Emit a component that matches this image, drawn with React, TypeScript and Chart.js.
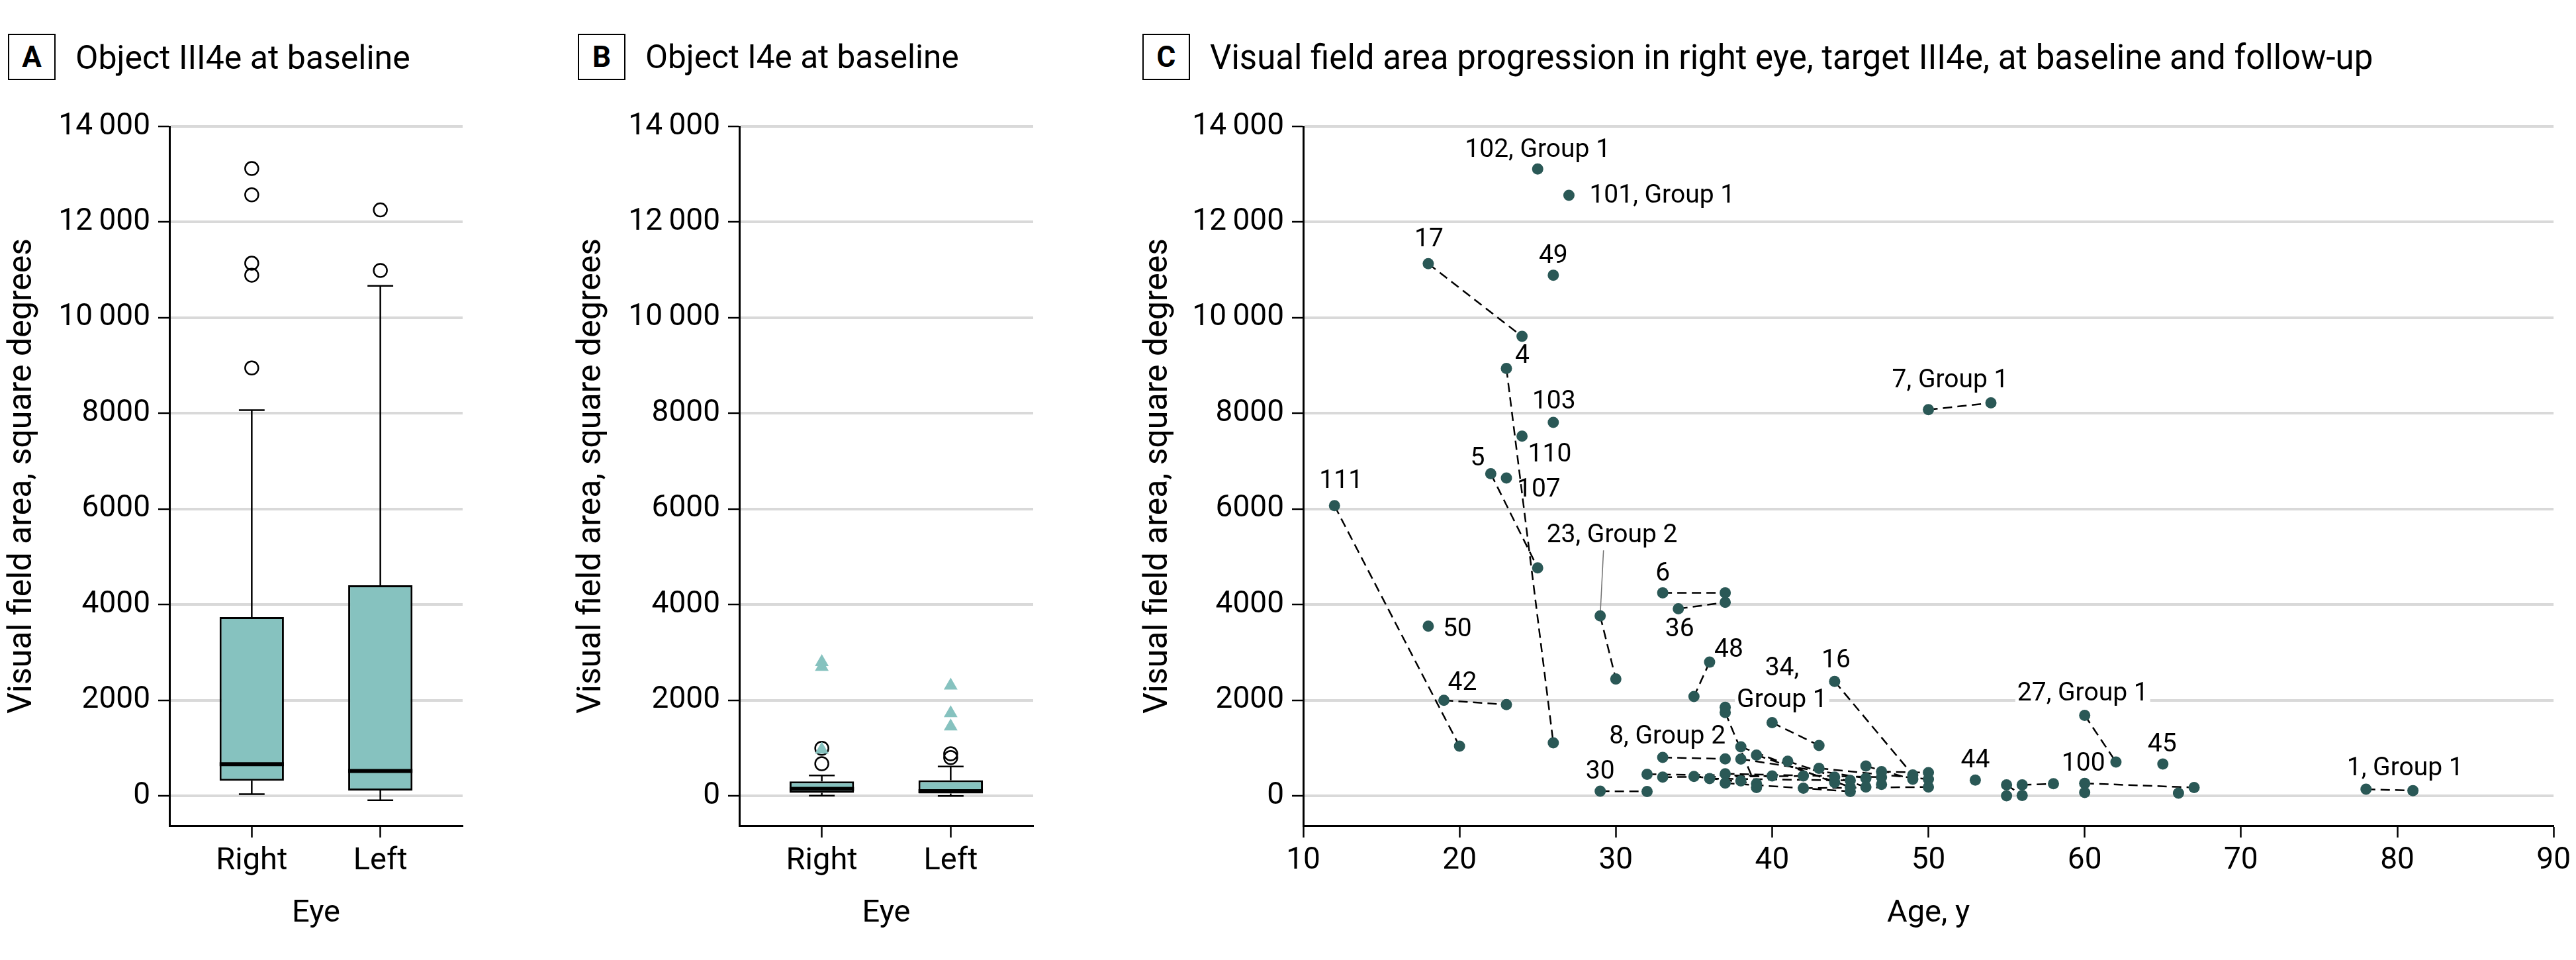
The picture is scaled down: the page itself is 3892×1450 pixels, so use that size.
import React, { useEffect, useRef } from 'react';
import { Chart, registerables } from 'chart.js';

Chart.register(...registerables);

const FONT = 'Roboto, "Liberation Sans", Arial, sans-serif';

// ---------- shared axis values ----------
const eyeLabels = ['Right', 'Left'];
const yTickValues = [0, 2000, 4000, 6000, 8000, 10000, 12000, 14000];
const ageTickValues = [10, 20, 30, 40, 50, 60, 70, 80, 90];

// ---------- Panel A: Object III4e at baseline (Right, Left) ----------
const aWhiskerLow = [36, -90];
const aQ1 = [318, 113];
const aMedian = [665, 523];
const aQ3 = [3740, 4404];
const aWhiskerHigh = [8066, 10668];
const aOutliersRight = [13120, 12570, 11140, 10890, 8950];
const aOutliersLeft = [12254, 10988];

// ---------- Panel B: Object I4e at baseline (Right, Left) ----------
const bWhiskerLow = [5, 0];
const bQ1 = [65, 51];
const bMedian = [150, 101];
const bQ3 = [305, 328];
const bWhiskerHigh = [429, 614];
const bOutliersRight = [997, 674];
const bOutliersLeft = [882, 803];
const bExtremesRight = [2800, 2700, 970];
const bExtremesLeft = [2309, 1731, 1454];

// ---------- Panel C: progression, right eye, III4e ----------
const cLabels = [
  '102, Group 1', '101, Group 1', '17', '49', '4', '103', '110', '5', '107', '111',
  '50', '42', '23, Group 2', '6', '36', '48', '34, Group 1', '16', '8, Group 2', '30',
  '7, Group 1', '27, Group 1', '44', '100', '45', '1, Group 1',
  '', '', '', '', '', '', '', '', '', '', '', '', '', '', '', '', '', '', '', '', '', '', '', '',
];
const cBaselineAge = [
  25, 27, 18, 26, 23, 26, 24, 22, 23, 12,
  18, 19, 29, 33, 34, 36, 40, 44, 33, 29,
  50, 60, 53, 60, 65, 78,
  32, 33, 35, 36, 37, 37, 37, 38, 38, 39, 41, 43, 46, 47, 42, 37, 38, 44, 47, 55, 56, 55, 60, 66,
];
const cBaselineArea = [
  13110, 12560, 11130, 10890, 8940, 7810, 7525, 6740, 6650, 6070,
  3550, 2000, 3765, 4248, 3914, 2798, 1533, 2394, 805, 100,
  8078, 1686, 333, 263, 667, 140,
  454, 394, 408, 362, 1745, 463, 270, 1026, 772, 855, 726, 578, 625, 509, 163, 1856, 316, 394, 242, 232, 232, 3, 71, 58,
];
const cFollowAge = [
  null, null, 24, null, 26, null, null, 25, null, 20,
  null, 23, 30, 37, 37, 35, 43, 49, 37, 32,
  54, 62, null, 67, null, 81,
  40, 42, 39, 45, 39, 47, 45, 44, 46, 45, 46, 50, 49, 50, 50, null, null, null, null, 56, 58, null, null, null,
];
const cFollowArea = [
  null, null, 9610, null, 1110, null, null, 4770, null, 1040,
  null, 1910, 2445, 4248, 4048, 2080, 1056, 440, 775, 94,
  8219, 710, null, 177, null, 112,
  417, 417, 256, 325, 177, 394, 94, 279, 371, 187, 187, 348, 348, 487, 187, null, null, null, null, 11, 256, null, null, null,
];

// label placement (pixel offsets from the baseline point) - style only
type Placement = { dx: number; dy: number; align: 'left' | 'center' | 'right'; lines?: string[]; leader?: [number, number]; bg?: boolean };
const cLabelPlacement: Record<string, Placement> = {
  '102, Group 1': { dx: 0, dy: -18, align: 'center' },
  '101, Group 1': { dx: 31, dy: 11, align: 'left' },
  '17': { dx: 1, dy: -26, align: 'center' },
  '49': { dx: 0, dy: -19, align: 'center' },
  '4': { dx: 13, dy: -8, align: 'left' },
  '103': { dx: 1, dy: -21, align: 'center' },
  '110': { dx: 9, dy: 38, align: 'left' },
  '5': { dx: -9, dy: -12, align: 'right' },
  '107': { dx: 16, dy: 28, align: 'left' },
  '111': { dx: 10, dy: -27, align: 'center' },
  '23, Group 2': { dx: -81, dy: -111, align: 'left', leader: [5, -99] },
  '50': { dx: 22, dy: 15, align: 'left' },
  '42': { dx: 6, dy: -16, align: 'left' },
  '6': { dx: 0, dy: -18, align: 'center' },
  '36': { dx: 2, dy: 41, align: 'center' },
  '48': { dx: 7, dy: -8, align: 'left' },
  '34, Group 1': { dx: 15, dy: -71, align: 'center', lines: ['34,', 'Group 1'], bg: true },
  '16': { dx: 2, dy: -21, align: 'center' },
  '8, Group 2': { dx: 7, dy: -21, align: 'center' },
  '30': { dx: 0, dy: -19, align: 'center' },
  '7, Group 1': { dx: 33, dy: -34, align: 'center' },
  '27, Group 1': { dx: -3, dy: -22, align: 'center', bg: true },
  '44': { dx: 0, dy: -19, align: 'center' },
  '100': { dx: -2, dy: -19, align: 'center' },
  '45': { dx: -1, dy: -19, align: 'center' },
  '1, Group 1': { dx: 59, dy: -21, align: 'center' },
};

// ---------- styles ----------
const TEAL = '#86C2BF';
const DOT = '#2A5856';
const GRID = '#D9D9D9';
const BOX_HALF = 0.25;
const CAP_HALF = 0.1;
const TICK_FONT = 46;
const XTITLE_FONT = 47;
const YTITLE_FONT = 50;
const LABEL_FONT = 39;

const fmt = (v: number) =>
  v >= 10000 ? `${Math.floor(v / 1000)}\u2009${String(v % 1000).padStart(3, '0')}` : String(v);

function yScale(width: number, titlePad: number) {
  return {
    type: 'linear',
    min: -620,
    max: 14000,
    afterBuildTicks: (axis: any) => {
      axis.ticks = yTickValues.map((v) => ({ value: v }));
    },
    afterFit: (s: any) => {
      s.width = width;
    },
    ticks: { callback: (v: any) => fmt(Number(v)), font: { size: TICK_FONT, family: FONT }, color: '#000', padding: 12 },
    grid: { color: GRID, lineWidth: 4, drawTicks: true, tickLength: 17, tickColor: '#000', tickWidth: 2.5 },
    border: { display: true, color: '#000', width: 3 },
    title: {
      display: true,
      text: 'Visual field area, square degrees',
      font: { size: YTITLE_FONT, family: FONT },
      color: '#000',
      padding: { top: titlePad, bottom: 0 },
    },
  };
}

function xBase(title: string) {
  return {
    offset: false,
    afterFit: (s: any) => {
      s.height = 203;
    },
    grid: { display: true, offset: false, drawOnChartArea: false, drawTicks: true, tickLength: 18, tickColor: '#000', tickWidth: 2.5 },
    border: { display: true, color: '#000', width: 3 },
    title: { display: true, text: title, font: { size: XTITLE_FONT, family: FONT }, color: '#000', padding: { top: 0, bottom: 42 } },
  };
}

function boxConfig(
  low: number[], q1: number[], med: number[], q3: number[], high: number[],
  outliers: number[][], extremes: number[][] | null,
  yWidth: number, yTitlePad: number, rightPad: number,
): any {
  const pos = [1, 2];
  const datasets: any[] = [
    {
      type: 'bar',
      data: pos.map((p, i) => ({ x: p, y: [q1[i], q3[i]] })),
      backgroundColor: TEAL,
      borderColor: '#000',
      borderWidth: 3,
      borderSkipped: false,
      barPercentage: 0.5,
      categoryPercentage: 1,
      order: 3,
    },
    {
      type: 'line',
      data: pos.flatMap((p, i) => [
        { x: p, y: q3[i] }, { x: p, y: high[i] }, { x: p, y: null },
        { x: p, y: q1[i] }, { x: p, y: low[i] }, { x: p, y: null },
        { x: p - CAP_HALF, y: high[i] }, { x: p + CAP_HALF, y: high[i] }, { x: p, y: null },
        { x: p - CAP_HALF, y: low[i] }, { x: p + CAP_HALF, y: low[i] }, { x: p, y: null },
      ]),
      borderColor: '#000',
      borderWidth: 2.5,
      pointRadius: 0,
      pointHitRadius: 0,
      spanGaps: false,
      fill: false,
      order: 4,
    },
    {
      type: 'line',
      data: pos.flatMap((p, i) => [
        { x: p - BOX_HALF, y: med[i] }, { x: p + BOX_HALF, y: med[i] }, { x: p, y: null },
      ]),
      borderColor: '#000',
      borderWidth: 6,
      pointRadius: 0,
      pointHitRadius: 0,
      spanGaps: false,
      fill: false,
      order: 2,
    },
    {
      type: 'scatter',
      data: pos.flatMap((p, i) => outliers[i].map((v) => ({ x: p, y: v }))),
      pointStyle: 'circle',
      pointRadius: 10,
      pointBackgroundColor: 'rgba(0,0,0,0)',
      pointBorderColor: '#000',
      pointBorderWidth: 2.5,
      order: 1,
    },
  ];
  if (extremes) {
    datasets.push({
      type: 'scatter',
      data: pos.flatMap((p, i) => extremes[i].map((v) => ({ x: p, y: v }))),
      pointStyle: 'triangle',
      pointRadius: 12,
      pointBackgroundColor: TEAL,
      pointBorderColor: TEAL,
      pointBorderWidth: 0,
      order: 0,
    });
  }
  return {
    type: 'bar',
    data: { datasets },
    options: {
      responsive: false,
      animation: false,
      devicePixelRatio: 1,
      layout: { padding: { top: 51, right: rightPad, left: 0, bottom: 0 } },
      plugins: { legend: { display: false }, tooltip: { enabled: false } },
      scales: {
        x: {
          type: 'linear',
          min: 0.36,
          max: 2.64,
          ...xBase('Eye'),
          afterBuildTicks: (axis: any) => {
            axis.ticks = [1, 2].map((v) => ({ value: v }));
          },
          ticks: {
            callback: (v: any) => eyeLabels[Number(v) - 1] ?? '',
            font: { size: XTITLE_FONT, family: FONT },
            color: '#000',
            padding: 8,
            autoSkip: false,
            maxRotation: 0,
          },
        },
        y: yScale(yWidth, yTitlePad),
      },
    },
  };
}

const pointLabelPlugin = {
  id: 'pointLabels',
  beforeDatasetsDraw(chart: any) {
    const { ctx } = chart;
    const xs = chart.scales.x;
    const ys = chart.scales.y;
    ctx.save();
    ctx.font = `${LABEL_FONT}px ${FONT}`;
    ctx.textBaseline = 'alphabetic';
    ctx.textAlign = 'left';
    cLabels.forEach((label, i) => {
      if (!label) return;
      const p = cLabelPlacement[label];
      if (!p) return;
      const px = xs.getPixelForValue(cBaselineAge[i]);
      const py = ys.getPixelForValue(cBaselineArea[i]);
      const lines = p.lines ?? [label];
      lines.forEach((t, k) => {
        const w = ctx.measureText(t).width;
        const bx = px + p.dx;
        const by = py + p.dy + k * 48;
        const left = p.align === 'left' ? bx : p.align === 'right' ? bx - w : bx - w / 2;
        if (p.bg) {
          ctx.fillStyle = '#fff';
          ctx.fillRect(left - 3, by - 30, w + 6, 38);
        }
        ctx.fillStyle = '#000';
        ctx.fillText(t, left, by);
      });
      if (p.leader) {
        ctx.strokeStyle = '#707070';
        ctx.lineWidth = 1.5;
        ctx.beginPath();
        ctx.moveTo(px + p.leader[0], py + p.leader[1]);
        ctx.lineTo(px, py);
        ctx.stroke();
      }
    });
    ctx.restore();
  },
};

function progressionConfig(): any {
  const lineSets: any[] = [];
  cLabels.forEach((_, i) => {
    const fa = cFollowAge[i];
    const fv = cFollowArea[i];
    if (fa == null || fv == null) return;
    lineSets.push({
      type: 'line',
      data: [
        { x: cBaselineAge[i], y: cBaselineArea[i] },
        { x: fa, y: fv },
      ],
      borderColor: '#000',
      borderWidth: 2.5,
      borderDash: [14, 8],
      pointRadius: 0,
      pointHitRadius: 0,
      fill: false,
      order: 1,
    });
  });
  const points: { x: number; y: number }[] = [];
  cLabels.forEach((_, i) => {
    points.push({ x: cBaselineAge[i], y: cBaselineArea[i] });
    const fa = cFollowAge[i];
    const fv = cFollowArea[i];
    if (fa != null && fv != null) points.push({ x: fa, y: fv });
  });
  return {
    type: 'scatter',
    data: {
      datasets: [
        ...lineSets,
        {
          type: 'scatter',
          data: points,
          pointRadius: 8.5,
          pointBackgroundColor: DOT,
          pointBorderColor: DOT,
          pointBorderWidth: 0,
          order: 0,
        },
      ],
    },
    plugins: [pointLabelPlugin],
    options: {
      responsive: false,
      animation: false,
      devicePixelRatio: 1,
      layout: { padding: { top: 51, right: 32, left: 0, bottom: 0 } },
      plugins: { legend: { display: false }, tooltip: { enabled: false } },
      scales: {
        x: {
          type: 'linear',
          min: 10,
          max: 90,
          ...xBase('Age, y'),
          afterBuildTicks: (axis: any) => {
            axis.ticks = ageTickValues.map((v) => ({ value: v }));
          },
          ticks: { font: { size: TICK_FONT, family: FONT }, color: '#000', padding: 8, autoSkip: false, maxRotation: 0 },
        },
        y: yScale(269, 20),
      },
    },
  };
}

const titleStyle = (left: number, size: number): React.CSSProperties => ({
  position: 'absolute',
  left,
  top: 104 - size * 0.842,
  fontFamily: FONT,
  fontSize: size,
  lineHeight: `${size}px`,
  whiteSpace: 'nowrap',
  color: '#000',
});

const letterBox = (left: number): React.CSSProperties => ({
  position: 'absolute',
  left,
  top: 51,
  width: 72,
  height: 70,
  boxSizing: 'border-box',
  border: '2.5px solid #000',
  display: 'flex',
  alignItems: 'center',
  justifyContent: 'center',
  fontFamily: FONT,
  fontWeight: 'bold',
  fontSize: 44,
  color: '#000',
});

export default function App() {
  const refA = useRef<HTMLCanvasElement>(null);
  const refB = useRef<HTMLCanvasElement>(null);
  const refC = useRef<HTMLCanvasElement>(null);

  useEffect(() => {
    Chart.defaults.font.family = FONT;
    Chart.defaults.color = '#000';
    const charts = [
      new Chart(
        refA.current as HTMLCanvasElement,
        boxConfig(aWhiskerLow, aQ1, aMedian, aQ3, aWhiskerHigh, [aOutliersRight, aOutliersLeft], null, 256, 4, 31),
      ),
      new Chart(
        refB.current as HTMLCanvasElement,
        boxConfig(bWhiskerLow, bQ1, bMedian, bQ3, bWhiskerHigh, [bOutliersRight, bOutliersLeft], [bExtremesRight, bExtremesLeft], 257, 4, 29),
      ),
      new Chart(refC.current as HTMLCanvasElement, progressionConfig()),
    ];
    return () => charts.forEach((c) => c.destroy());
  }, []);

  return (
    <div
      style={{
        position: 'fixed',
        left: 0,
        top: 0,
        width: 3892,
        height: 1450,
        background: '#fff',
        overflow: 'hidden',
      }}
    >
      <div style={letterBox(12)}>A</div>
      <div style={titleStyle(114, 50)}>Object III4e at baseline</div>
      <div style={letterBox(873)}>B</div>
      <div style={titleStyle(975, 49.5)}>Object I4e at baseline</div>
      <div style={letterBox(1726)}>C</div>
      <div style={titleStyle(1828, 51)}>
        Visual field area progression in right eye, target III4e, at baseline and follow-up
      </div>
      <canvas ref={refA} width={730} height={1310} style={{ position: 'absolute', left: 0, top: 140 }} />
      <canvas ref={refB} width={730} height={1310} style={{ position: 'absolute', left: 860, top: 140 }} />
      <canvas ref={refC} width={2192} height={1310} style={{ position: 'absolute', left: 1700, top: 140 }} />
    </div>
  );
}
